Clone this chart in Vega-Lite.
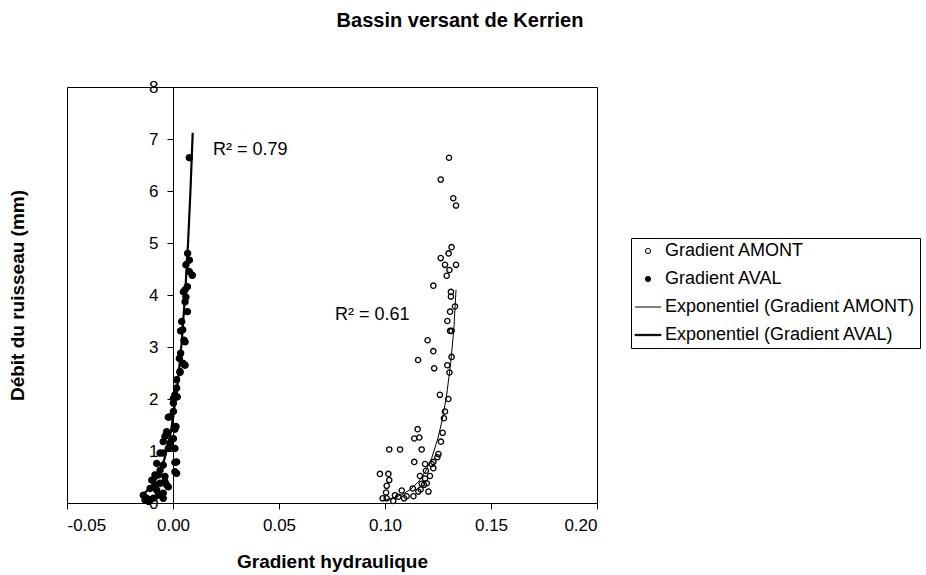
{
  "$schema": "https://vega.github.io/schema/vega-lite/v6.json",
  "autosize": "none",
  "width": 530,
  "height": 416,
  "padding": {"top": 87, "left": 67, "right": 329, "bottom": 72},
  "background": "white",
  "title": {
    "text": "Bassin versant de Kerrien",
    "font": "Liberation Sans",
    "fontSize": 20,
    "fontWeight": "bold",
    "color": "black",
    "anchor": "middle",
    "frame": "group",
    "dx": 128,
    "offset": 47
  },
  "config": {
    "view": {"stroke": "black", "strokeWidth": 1},
    "axis": {
      "grid": false,
      "domainColor": "black",
      "tickColor": "black",
      "labelColor": "black",
      "titleColor": "black",
      "labelFont": "Liberation Sans",
      "labelFontSize": 17,
      "titleFont": "Liberation Sans",
      "titleFontSize": 19,
      "titleFontWeight": "bold",
      "tickSize": 6
    },
    "legend": {
      "labelFont": "Liberation Sans",
      "labelFontSize": 18,
      "labelColor": "black",
      "labelLimit": 400,
      "strokeColor": "black",
      "fillColor": "white",
      "padding": 4,
      "rowPadding": 10,
      "symbolSize": 27,
      "symbolStrokeWidth": 1,
      "labelOffset": 8,
      "symbolOffset": 4
    }
  },
  "datasets": {
    "pts": [
      {"g": 0.1302, "q": 6.64, "serie": "Gradient AMONT"},
      {"g": 0.1263, "q": 6.22, "serie": "Gradient AMONT"},
      {"g": 0.1322, "q": 5.86, "serie": "Gradient AMONT"},
      {"g": 0.1335, "q": 5.72, "serie": "Gradient AMONT"},
      {"g": 0.1314, "q": 4.92, "serie": "Gradient AMONT"},
      {"g": 0.1300, "q": 4.80, "serie": "Gradient AMONT"},
      {"g": 0.1263, "q": 4.71, "serie": "Gradient AMONT"},
      {"g": 0.1283, "q": 4.58, "serie": "Gradient AMONT"},
      {"g": 0.1335, "q": 4.58, "serie": "Gradient AMONT"},
      {"g": 0.1304, "q": 4.48, "serie": "Gradient AMONT"},
      {"g": 0.1291, "q": 4.37, "serie": "Gradient AMONT"},
      {"g": 0.1228, "q": 4.18, "serie": "Gradient AMONT"},
      {"g": 0.1311, "q": 4.06, "serie": "Gradient AMONT"},
      {"g": 0.1311, "q": 3.97, "serie": "Gradient AMONT"},
      {"g": 0.1330, "q": 3.78, "serie": "Gradient AMONT"},
      {"g": 0.1307, "q": 3.68, "serie": "Gradient AMONT"},
      {"g": 0.1294, "q": 3.50, "serie": "Gradient AMONT"},
      {"g": 0.1307, "q": 3.31, "serie": "Gradient AMONT"},
      {"g": 0.1314, "q": 3.31, "serie": "Gradient AMONT"},
      {"g": 0.1201, "q": 3.13, "serie": "Gradient AMONT"},
      {"g": 0.1228, "q": 2.92, "serie": "Gradient AMONT"},
      {"g": 0.1156, "q": 2.75, "serie": "Gradient AMONT"},
      {"g": 0.1314, "q": 2.81, "serie": "Gradient AMONT"},
      {"g": 0.1232, "q": 2.59, "serie": "Gradient AMONT"},
      {"g": 0.1294, "q": 2.65, "serie": "Gradient AMONT"},
      {"g": 0.1304, "q": 2.51, "serie": "Gradient AMONT"},
      {"g": 0.1259, "q": 2.08, "serie": "Gradient AMONT"},
      {"g": 0.1299, "q": 2.00, "serie": "Gradient AMONT"},
      {"g": 0.1283, "q": 1.76, "serie": "Gradient AMONT"},
      {"g": 0.1278, "q": 1.63, "serie": "Gradient AMONT"},
      {"g": 0.1154, "q": 1.42, "serie": "Gradient AMONT"},
      {"g": 0.1272, "q": 1.35, "serie": "Gradient AMONT"},
      {"g": 0.1138, "q": 1.24, "serie": "Gradient AMONT"},
      {"g": 0.1162, "q": 1.26, "serie": "Gradient AMONT"},
      {"g": 0.1264, "q": 1.18, "serie": "Gradient AMONT"},
      {"g": 0.1020, "q": 1.03, "serie": "Gradient AMONT"},
      {"g": 0.1071, "q": 1.03, "serie": "Gradient AMONT"},
      {"g": 0.1173, "q": 1.03, "serie": "Gradient AMONT"},
      {"g": 0.1252, "q": 0.94, "serie": "Gradient AMONT"},
      {"g": 0.1247, "q": 0.88, "serie": "Gradient AMONT"},
      {"g": 0.1138, "q": 0.79, "serie": "Gradient AMONT"},
      {"g": 0.1189, "q": 0.75, "serie": "Gradient AMONT"},
      {"g": 0.1220, "q": 0.75, "serie": "Gradient AMONT"},
      {"g": 0.1228, "q": 0.67, "serie": "Gradient AMONT"},
      {"g": 0.0976, "q": 0.56, "serie": "Gradient AMONT"},
      {"g": 0.1016, "q": 0.56, "serie": "Gradient AMONT"},
      {"g": 0.1193, "q": 0.62, "serie": "Gradient AMONT"},
      {"g": 0.1212, "q": 0.52, "serie": "Gradient AMONT"},
      {"g": 0.1165, "q": 0.52, "serie": "Gradient AMONT"},
      {"g": 0.1020, "q": 0.44, "serie": "Gradient AMONT"},
      {"g": 0.1189, "q": 0.47, "serie": "Gradient AMONT"},
      {"g": 0.1173, "q": 0.37, "serie": "Gradient AMONT"},
      {"g": 0.1008, "q": 0.33, "serie": "Gradient AMONT"},
      {"g": 0.1197, "q": 0.38, "serie": "Gradient AMONT"},
      {"g": 0.1205, "q": 0.22, "serie": "Gradient AMONT"},
      {"g": 0.1131, "q": 0.28, "serie": "Gradient AMONT"},
      {"g": 0.1079, "q": 0.24, "serie": "Gradient AMONT"},
      {"g": 0.1168, "q": 0.26, "serie": "Gradient AMONT"},
      {"g": 0.1005, "q": 0.20, "serie": "Gradient AMONT"},
      {"g": 0.1047, "q": 0.15, "serie": "Gradient AMONT"},
      {"g": 0.1102, "q": 0.13, "serie": "Gradient AMONT"},
      {"g": 0.1134, "q": 0.13, "serie": "Gradient AMONT"},
      {"g": 0.1039, "q": 0.04, "serie": "Gradient AMONT"},
      {"g": 0.1090, "q": 0.09, "serie": "Gradient AMONT"},
      {"g": 0.1008, "q": 0.09, "serie": "Gradient AMONT"},
      {"g": 0.1063, "q": 0.12, "serie": "Gradient AMONT"},
      {"g": 0.1157, "q": 0.22, "serie": "Gradient AMONT"},
      {"g": 0.0989, "q": 0.09, "serie": "Gradient AMONT"},
      {"g": 0.1184, "q": 0.35, "serie": "Gradient AMONT"},
      {"g": 0.1228, "q": 0.79, "serie": "Gradient AMONT"},
      {"g": 0.0077, "q": 6.64, "serie": "Gradient AVAL"},
      {"g": 0.0069, "q": 4.80, "serie": "Gradient AVAL"},
      {"g": 0.0077, "q": 4.67, "serie": "Gradient AVAL"},
      {"g": 0.0061, "q": 4.58, "serie": "Gradient AVAL"},
      {"g": 0.0077, "q": 4.45, "serie": "Gradient AVAL"},
      {"g": 0.0091, "q": 4.38, "serie": "Gradient AVAL"},
      {"g": 0.0068, "q": 4.16, "serie": "Gradient AVAL"},
      {"g": 0.0049, "q": 4.06, "serie": "Gradient AVAL"},
      {"g": 0.0057, "q": 4.10, "serie": "Gradient AVAL"},
      {"g": 0.0061, "q": 3.96, "serie": "Gradient AVAL"},
      {"g": 0.0068, "q": 3.68, "serie": "Gradient AVAL"},
      {"g": 0.0041, "q": 3.49, "serie": "Gradient AVAL"},
      {"g": 0.0036, "q": 3.31, "serie": "Gradient AVAL"},
      {"g": 0.0052, "q": 3.13, "serie": "Gradient AVAL"},
      {"g": 0.0036, "q": 2.88, "serie": "Gradient AVAL"},
      {"g": 0.0030, "q": 2.78, "serie": "Gradient AVAL"},
      {"g": 0.0049, "q": 2.67, "serie": "Gradient AVAL"},
      {"g": 0.0057, "q": 2.65, "serie": "Gradient AVAL"},
      {"g": 0.0033, "q": 2.51, "serie": "Gradient AVAL"},
      {"g": 0.0017, "q": 2.21, "serie": "Gradient AVAL"},
      {"g": 0.0009, "q": 2.08, "serie": "Gradient AVAL"},
      {"g": 0.0020, "q": 2.04, "serie": "Gradient AVAL"},
      {"g": 0.0002, "q": 1.76, "serie": "Gradient AVAL"},
      {"g": -0.0022, "q": 1.65, "serie": "Gradient AVAL"},
      {"g": 0.0009, "q": 1.42, "serie": "Gradient AVAL"},
      {"g": -0.0030, "q": 1.37, "serie": "Gradient AVAL"},
      {"g": -0.0038, "q": 1.28, "serie": "Gradient AVAL"},
      {"g": 0.0002, "q": 1.24, "serie": "Gradient AVAL"},
      {"g": -0.0046, "q": 1.18, "serie": "Gradient AVAL"},
      {"g": -0.0014, "q": 1.15, "serie": "Gradient AVAL"},
      {"g": -0.0022, "q": 1.05, "serie": "Gradient AVAL"},
      {"g": 0.0009, "q": 1.05, "serie": "Gradient AVAL"},
      {"g": -0.0061, "q": 0.96, "serie": "Gradient AVAL"},
      {"g": 0.0009, "q": 0.78, "serie": "Gradient AVAL"},
      {"g": -0.0077, "q": 0.76, "serie": "Gradient AVAL"},
      {"g": -0.0046, "q": 0.73, "serie": "Gradient AVAL"},
      {"g": -0.0061, "q": 0.63, "serie": "Gradient AVAL"},
      {"g": 0.0017, "q": 0.57, "serie": "Gradient AVAL"},
      {"g": -0.0085, "q": 0.54, "serie": "Gradient AVAL"},
      {"g": -0.0038, "q": 0.51, "serie": "Gradient AVAL"},
      {"g": -0.0100, "q": 0.44, "serie": "Gradient AVAL"},
      {"g": -0.0061, "q": 0.38, "serie": "Gradient AVAL"},
      {"g": -0.0030, "q": 0.35, "serie": "Gradient AVAL"},
      {"g": -0.0108, "q": 0.28, "serie": "Gradient AVAL"},
      {"g": -0.0077, "q": 0.25, "serie": "Gradient AVAL"},
      {"g": -0.0046, "q": 0.19, "serie": "Gradient AVAL"},
      {"g": -0.0140, "q": 0.15, "serie": "Gradient AVAL"},
      {"g": -0.0124, "q": 0.09, "serie": "Gradient AVAL"},
      {"g": -0.0093, "q": 0.09, "serie": "Gradient AVAL"},
      {"g": -0.0116, "q": 0.03, "serie": "Gradient AVAL"},
      {"g": -0.0069, "q": 0.15, "serie": "Gradient AVAL"},
      {"g": -0.0132, "q": 0.06, "serie": "Gradient AVAL"},
      {"g": 0.0057, "q": 3.87, "serie": "Gradient AVAL"},
      {"g": 0.0046, "q": 3.33, "serie": "Gradient AVAL"},
      {"g": 0.0057, "q": 3.10, "serie": "Gradient AVAL"},
      {"g": 0.0046, "q": 2.69, "serie": "Gradient AVAL"},
      {"g": 0.0033, "q": 2.53, "serie": "Gradient AVAL"},
      {"g": 0.0017, "q": 2.37, "serie": "Gradient AVAL"},
      {"g": 0.0002, "q": 2.01, "serie": "Gradient AVAL"},
      {"g": 0.0002, "q": 1.92, "serie": "Gradient AVAL"},
      {"g": -0.0011, "q": 1.66, "serie": "Gradient AVAL"},
      {"g": 0.0014, "q": 1.47, "serie": "Gradient AVAL"},
      {"g": -0.0030, "q": 1.34, "serie": "Gradient AVAL"},
      {"g": -0.0046, "q": 0.96, "serie": "Gradient AVAL"},
      {"g": 0.0017, "q": 0.79, "serie": "Gradient AVAL"},
      {"g": 0.0009, "q": 0.60, "serie": "Gradient AVAL"},
      {"g": -0.0069, "q": 0.54, "serie": "Gradient AVAL"},
      {"g": -0.0038, "q": 0.41, "serie": "Gradient AVAL"},
      {"g": -0.0085, "q": 0.35, "serie": "Gradient AVAL"},
      {"g": -0.0022, "q": 0.31, "serie": "Gradient AVAL"},
      {"g": -0.0046, "q": 0.09, "serie": "Gradient AVAL"},
      {"g": -0.0108, "q": 0.06, "serie": "Gradient AVAL"}
    ],
    "fitA": [
      {"g": 0.0995, "q": 0.05},
      {"g": 0.104, "q": 0.10},
      {"g": 0.108, "q": 0.16},
      {"g": 0.112, "q": 0.26},
      {"g": 0.116, "q": 0.42},
      {"g": 0.119, "q": 0.60},
      {"g": 0.122, "q": 0.86},
      {"g": 0.125, "q": 1.25},
      {"g": 0.127, "q": 1.60},
      {"g": 0.129, "q": 2.05},
      {"g": 0.131, "q": 2.70},
      {"g": 0.1325, "q": 3.35},
      {"g": 0.1335, "q": 4.10}
    ],
    "fitB": [
      {"g": -0.0135, "q": 0.185},
      {"g": -0.010, "q": 0.324},
      {"g": -0.007, "q": 0.524},
      {"g": -0.004, "q": 0.847},
      {"g": -0.001, "q": 1.369},
      {"g": 0.002, "q": 2.213},
      {"g": 0.004, "q": 3.048},
      {"g": 0.0057, "q": 4.0},
      {"g": 0.0071, "q": 5.0},
      {"g": 0.0082, "q": 5.97},
      {"g": 0.0093, "q": 7.12}
    ],
    "notes": [
      {"g": 0.0189, "q": 6.78, "label": "R² = 0.79"},
      {"g": 0.0764, "q": 3.62, "label": "R² = 0.61"}
    ]
  },
  "encoding": {
    "x": {
      "field": "g",
      "type": "quantitative",
      "scale": {"domain": [-0.05, 0.2], "nice": false, "zero": false},
      "axis": {
        "title": "Gradient hydraulique",
        "values": [-0.05, 0, 0.05, 0.1, 0.15, 0.2],
        "labelExpr": "replace(format(datum.value, '.2f'), '\u2212', '-')",
        "labelPadding": 8,
        "titlePadding": 19
      }
    },
    "y": {
      "field": "q",
      "type": "quantitative",
      "scale": {"domain": [0, 8], "nice": false},
      "axis": {
        "title": "Débit du ruisseau (mm)",
        "values": [0, 1, 2, 3, 4, 5, 6, 7, 8],
        "format": "d",
        "offset": -106,
        "labelPadding": 9,
        "titleX": -146,
        "titleY": 208,
        "titleAlign": "center"
      }
    }
  },
  "layer": [
    {
      "data": {"name": "pts"},
      "mark": {"type": "point", "filled": false, "strokeWidth": 1.3, "opacity": 1},
      "encoding": {
        "shape": {
          "field": "serie",
          "type": "nominal",
          "scale": {
            "domain": ["Gradient AMONT", "Gradient AVAL", "Exponentiel (Gradient AMONT)", "Exponentiel (Gradient AVAL)"],
            "range": ["circle", "circle", "M-5,0L5,0", "M-5,-0.25L5,-0.25L5,0.25L-5,0.25Z"]
          },
          "legend": {"title": null, "orient": "none", "legendX": 564, "legendY": 151}
        },
        "fill": {
          "field": "serie",
          "type": "nominal",
          "scale": {
            "domain": ["Gradient AMONT", "Gradient AVAL", "Exponentiel (Gradient AMONT)", "Exponentiel (Gradient AVAL)"],
            "range": ["transparent", "black", "transparent", "black"]
          },
          "legend": {"title": null, "orient": "none", "legendX": 564, "legendY": 151}
        },
        "stroke": {
          "field": "serie",
          "type": "nominal",
          "scale": {
            "domain": ["Gradient AMONT", "Gradient AVAL", "Exponentiel (Gradient AMONT)", "Exponentiel (Gradient AVAL)"],
            "range": ["black", "black", "black", "black"]
          },
          "legend": {"title": null, "orient": "none", "legendX": 564, "legendY": 151}
        },
        "size": {
          "field": "serie",
          "type": "nominal",
          "legend": null,
          "scale": {
            "domain": ["Gradient AMONT", "Gradient AVAL"],
            "range": [28, 38]
          }
        }
      }
    },
    {
      "data": {"name": "fitA"},
      "mark": {"type": "line", "color": "black", "strokeWidth": 1}
    },
    {
      "data": {"name": "fitB"},
      "mark": {"type": "line", "color": "black", "strokeWidth": 2.2}
    },
    {
      "data": {"name": "notes"},
      "mark": {"type": "text", "align": "left", "baseline": "middle", "font": "Liberation Sans", "fontSize": 18, "color": "black"},
      "encoding": {"text": {"field": "label"}}
    }
  ]
}
